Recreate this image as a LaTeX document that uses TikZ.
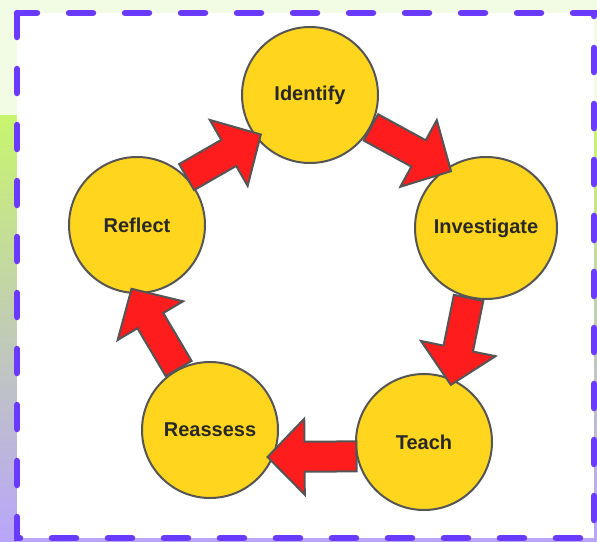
\documentclass[tikz,border=0pt]{standalone}
\usepackage{fontspec}
\setmainfont{Liberation Sans}
\usepackage{tikz}
\usetikzlibrary{calc}
\definecolor{cyclegold}  {RGB}{255,213,30}
\definecolor{cyclered}   {RGB}{255,28,28}
\definecolor{cyclegray}  {RGB}{85,85,85}
\definecolor{cycletext}  {RGB}{40,40,40}
\definecolor{framepurple}{RGB}{106,59,255}
\definecolor{pagepale}   {RGB}{242,252,228}
\definecolor{pagegreen}  {RGB}{200,245,110}
\definecolor{pagelilac}  {RGB}{185,165,250}
\newcommand{\cyclearrow}[2]{%
  \coordinate (tip)  at ($(#2)!-6pt!(#1)$);
  \coordinate (base) at ($(tip)!37pt!(#1)$);
  \draw[blockarr] ($(#1)!15pt!90:(tip)$) -- ($(base)!15pt!-90:(#1)$)
    -- ($(base)!38pt!-90:(#1)$) -- (tip) -- ($(base)!38pt!90:(#1)$)
    -- ($(base)!15pt!90:(#1)$) -- ($(#1)!15pt!-90:(tip)$) -- cycle;}

\begin{document}
\begin{tikzpicture}[
  x=1pt,y=-1pt,
  stage/.style   ={draw=cyclegray,fill=cyclegold,circle,line width=2pt,
                   minimum size=136pt,inner sep=0pt,text=cycletext,
                   font=\bfseries\fontsize{20}{24}\selectfont},
  blockarr/.style={draw=cyclegray,fill=cyclered,line width=2pt,
                   line join=miter},
  frame/.style   ={draw=framepurple,line width=6.5pt,line cap=round,
                   dash pattern=on 24pt off 32pt},
]
\useasboundingbox (0,0) rectangle (597,541);

%% ── Page background ──────────────────────────────────────────────────────────
\fill[pagepale] (0,0) rectangle (597,541);
\shade[top color=pagegreen,bottom color=pagelilac] (0,115) rectangle (597,541);
\fill[white] (17,13) rectangle (594,538);
\draw[frame] (17,13) rectangle (594,538);

%% ── Stages of the cycle ──────────────────────────────────────────────────────
\node[stage] (identify)    at (310,95)  {Identify};
\node[stage,minimum size=142pt]
             (investigate) at (486,228) {Investigate};
\node[stage] (teach)       at (424,442) {Teach};
\node[stage] (reassess)    at (210,430) {Reassess};
\node[stage] (reflect)     at (137,225) {Reflect};

%% ── Block arrows between stages ─────────────────────────────────────────────
\cyclearrow{reflect.44}{identify.218}
\cyclearrow{identify.-28}{investigate.124}
\cyclearrow{investigate.256}{teach.66}
\cyclearrow{teach.192}{reassess.-23}
\cyclearrow{reassess.117}{reflect.268}

\end{tikzpicture}
\end{document}
